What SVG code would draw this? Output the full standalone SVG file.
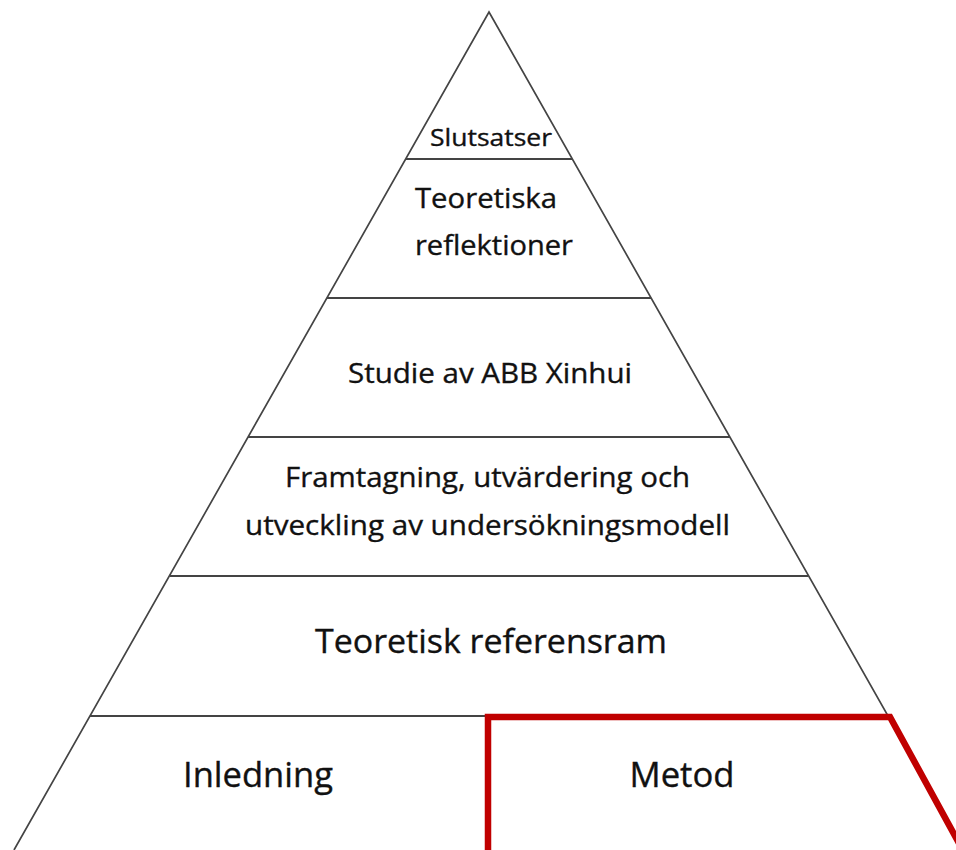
<svg xmlns="http://www.w3.org/2000/svg" width="956" height="850" viewBox="0 0 956 850">
  <style>
    .edge { fill: none; stroke: #444; stroke-width: 1.7; }
    .tier { fill: none; stroke: #444; stroke-width: 2; }
    .lbl { font-family: "Open Sans", "Liberation Sans", sans-serif; fill: #111; stroke: #111; stroke-width: 0.35; }
    .mid { text-anchor: middle; }
    .hl { fill: none; stroke: #c00000; stroke-width: 6.5; stroke-linejoin: miter; }
  </style>
  <rect width="956" height="850" fill="#ffffff"/>

  <!-- pyramid outline -->
  <g id="pyramid">
    <polyline class="edge" points="14,850 489,12 964,850"/>
  </g>

  <!-- horizontal tier dividers -->
  <g id="dividers">
    <line class="tier" x1="406" y1="159" x2="572" y2="159"/>
    <line class="tier" x1="327" y1="298" x2="651" y2="298"/>
    <line class="tier" x1="248" y1="437" x2="730" y2="437"/>
    <line class="tier" x1="170" y1="576" x2="808" y2="576"/>
    <line class="tier" x1="90" y1="716" x2="888" y2="716"/>
  </g>

  <g id="slutsatser">
    <text class="lbl mid" x="491" y="146" font-size="23" textLength="122" lengthAdjust="spacingAndGlyphs">Slutsatser</text>
  </g>

  <g id="teoretiska-reflektioner">
    <text class="lbl" x="415" y="208" font-size="27" textLength="142" lengthAdjust="spacingAndGlyphs">Teoretiska</text>
    <text class="lbl" x="415" y="255" font-size="27" textLength="158" lengthAdjust="spacingAndGlyphs">reflektioner</text>
  </g>

  <g id="studie">
    <text class="lbl mid" x="490" y="383" font-size="27" textLength="284" lengthAdjust="spacingAndGlyphs">Studie av ABB Xinhui</text>
  </g>

  <g id="framtagning">
    <text class="lbl mid" x="487.5" y="487" font-size="28" textLength="405" lengthAdjust="spacingAndGlyphs">Framtagning, utvärdering och</text>
    <text class="lbl mid" x="487.5" y="535" font-size="28" textLength="485" lengthAdjust="spacingAndGlyphs">utveckling av undersökningsmodell</text>
  </g>

  <g id="teoretisk-referensram">
    <text class="lbl mid" x="491" y="653" font-size="33" textLength="352" lengthAdjust="spacingAndGlyphs">Teoretisk referensram</text>
  </g>

  <g id="inledning">
    <text class="lbl mid" x="258" y="787" font-size="34" textLength="150" lengthAdjust="spacingAndGlyphs">Inledning</text>
  </g>

  <g id="metod">
    <polygon class="hl" points="488,717 890,717 966,856 488,856"/>
    <text class="lbl mid" x="682" y="787" font-size="34" textLength="105" lengthAdjust="spacingAndGlyphs">Metod</text>
  </g>
</svg>
